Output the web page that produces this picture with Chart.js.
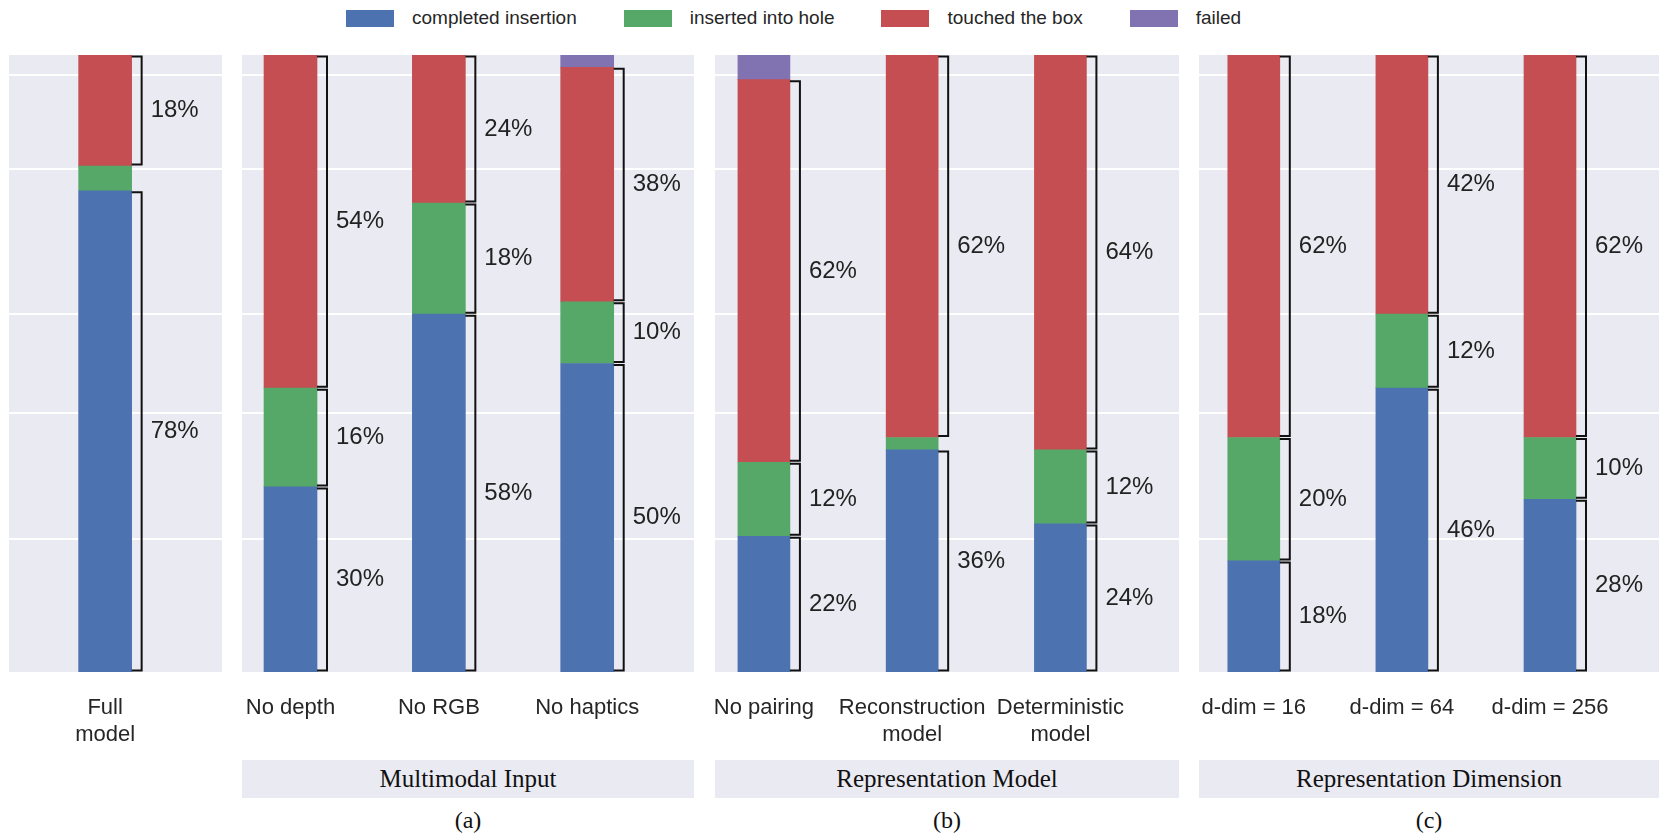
<!DOCTYPE html>
<html>
<head>
<meta charset="utf-8">
<script src="https://cdn.jsdelivr.net/npm/chart.js@4.4.1/dist/chart.umd.min.js"></script>
<style>
  html, body { margin: 0; padding: 0; background: #fff; }
  body { width: 1670px; height: 833px; position: relative; overflow: hidden;
         font-family: "Liberation Sans", Arial, sans-serif; }
  canvas.panel { position: absolute; }
  #legend { position: absolute; left: 346px; top: 9px; height: 18px; display: flex; align-items: center;
            font-size: 19px; color: #262626; white-space: nowrap; }
  #legend .item { display: flex; align-items: center; margin-right: 47px; }
  #legend .swatch { width: 48px; height: 17px; margin-right: 18px; }
  .group { position: absolute; top: 760px; height: 38px; background: #EAEAF2;
           font-family: "Liberation Serif", "Times New Roman", serif; font-size: 25px; color: #111;
           display: flex; align-items: center; justify-content: center; }
  .sub { position: absolute; top: 806px; height: 28px; line-height: 28px; text-align: center;
         font-family: "Liberation Serif", "Times New Roman", serif; font-size: 24px; color: #111; }
</style>
</head>
<body>
<div id="legend"></div>
<script>
// ---- data ----
const seriesNames  = ['completed insertion', 'inserted into hole', 'touched the box', 'failed'];
const seriesColors = ['#4C72B0', '#55A868', '#C44E52', '#8172B2'];

const panelCategories = [
  [['Full', 'model']],
  ['No depth', 'No RGB', 'No haptics'],
  ['No pairing', ['Reconstruction', 'model'], ['Deterministic', 'model']],
  ['d-dim = 16', 'd-dim = 64', 'd-dim = 256']
];

// percentages per panel, one entry per bar
const completed = [[78], [30, 58, 50], [22, 36, 24], [18, 46, 28]];
const inserted  = [[4],  [16, 18, 10], [12, 2, 12],  [20, 12, 10]];
const touched   = [[18], [54, 24, 38], [62, 62, 64], [62, 42, 62]];
const failed    = [[0],  [0, 0, 2],    [4, 0, 0],    [0, 0, 0]];

const gridValues  = [21.5, 42, 58, 81.6, 96.8];
const groupTitles = ['Multimodal Input', 'Representation Model', 'Representation Dimension'];
const subLabels   = ['(a)', '(b)', '(c)'];

// ---- layout ----
const seriesValues = [completed, inserted, touched, failed];
const panels = [
  { left: 9,    width: 213, xMin: -0.65, xMax: 0.79,  bar: 53 },
  { left: 242,  width: 452, xMin: -0.327, xMax: 2.72, bar: 53 },
  { left: 715,  width: 464, xMin: -0.33, xMax: 2.80,  bar: 52 },
  { left: 1199, width: 460, xMin: -0.37, xMax: 2.736, bar: 52 }
];
const PLOT_TOP = 55, PLOT_H = 617, PAD_X = 40, PAD_TOP = 10, AXIS_H = 80;
const labelMin = 10;            // segments smaller than this get no bracket
const sansFamily = '"Liberation Sans", Arial, sans-serif';

// legend
const legendEl = document.getElementById('legend');
seriesNames.forEach((name, k) => {
  const item = document.createElement('div');
  item.className = 'item';
  const sw = document.createElement('div');
  sw.className = 'swatch';
  sw.style.background = seriesColors[k];
  const tx = document.createElement('span');
  tx.textContent = name;
  item.appendChild(sw); item.appendChild(tx);
  legendEl.appendChild(item);
});

// grey plot background
const panelBg = {
  id: 'panelBg',
  beforeDraw(chart) {
    const { ctx, chartArea: a } = chart;
    ctx.save();
    ctx.fillStyle = '#EAEAF2';
    ctx.fillRect(a.left, a.top, a.width, a.height);
    ctx.restore();
  }
};

// brackets with percentage labels to the right of each stacked segment
const brackets = {
  id: 'brackets',
  afterDatasetsDraw(chart) {
    const { ctx } = chart;
    const yScale = chart.scales.y;
    const nBars = chart.data.datasets[0].data.length;
    ctx.save();
    ctx.strokeStyle = '#111';
    ctx.lineWidth = 2;
    ctx.fillStyle = '#222';
    ctx.font = '24px ' + sansFamily;
    ctx.textAlign = 'left';
    ctx.textBaseline = 'middle';
    for (let i = 0; i < nBars; i++) {
      let base = 0;
      chart.data.datasets.forEach((ds, k) => {
        const v = ds.data[i].y;
        const el = chart.getDatasetMeta(k).data[i];
        const right = el.x + el.width / 2;
        if (v >= labelMin) {
          const yTop = yScale.getPixelForValue(base + v) + 1.5;
          const yBot = yScale.getPixelForValue(base) - 1.5;
          const xv = right + 10;
          ctx.beginPath();
          ctx.moveTo(right, yTop);
          ctx.lineTo(xv, yTop);
          ctx.lineTo(xv, yBot);
          ctx.lineTo(right, yBot);
          ctx.stroke();
          ctx.fillText(v + '%', right + 19, (yTop + yBot) / 2);
        }
        base += v;
      });
    }
    ctx.restore();
  }
};

panels.forEach((p, pi) => {
  const cats = panelCategories[pi];
  const canvas = document.createElement('canvas');
  canvas.className = 'panel';
  const w = p.width + 2 * PAD_X, h = PAD_TOP + PLOT_H + AXIS_H;
  canvas.width = w; canvas.height = h;
  canvas.style.width = w + 'px'; canvas.style.height = h + 'px';
  canvas.style.left = (p.left - PAD_X) + 'px';
  canvas.style.top = (PLOT_TOP - PAD_TOP) + 'px';
  document.body.appendChild(canvas);

  new Chart(canvas, {
    type: 'bar',
    data: {
      datasets: seriesNames.map((name, k) => ({
        label: name,
        data: seriesValues[k][pi].map((v, i) => ({ x: i, y: v })),
        backgroundColor: seriesColors[k],
        borderWidth: 0,
        barThickness: p.bar
      }))
    },
    options: {
      responsive: false,
      animation: false,
      devicePixelRatio: 1,
      layout: { padding: { left: PAD_X, right: PAD_X, top: PAD_TOP, bottom: 0 } },
      plugins: { legend: { display: false }, tooltip: { enabled: false } },
      scales: {
        x: {
          type: 'linear', min: p.xMin, max: p.xMax, stacked: true,
          offset: false, bounds: 'data',
          grid: { display: false, offset: false }, border: { display: false },
          afterBuildTicks: s => { s.ticks = cats.map((_, i) => ({ value: i })); },
          afterFit: s => { s.height = AXIS_H; },
          ticks: {
            autoSkip: false, maxRotation: 0, minRotation: 0, padding: 15,
            color: '#262626', font: { size: 22, family: sansFamily },
            callback: v => cats[v]
          }
        },
        y: {
          min: 0, max: 100, stacked: true,
          grid: { color: '#ffffff', lineWidth: 2, drawTicks: false },
          border: { display: false },
          ticks: { display: false },
          afterBuildTicks: s => { s.ticks = gridValues.map(v => ({ value: v })); }
        }
      }
    },
    plugins: [panelBg, brackets]
  });
});

// group captions under panels b-d
groupTitles.forEach((t, gi) => {
  const p = panels[gi + 1];
  const box = document.createElement('div');
  box.className = 'group';
  box.style.left = p.left + 'px';
  box.style.width = p.width + 'px';
  box.textContent = t;
  document.body.appendChild(box);
  const sub = document.createElement('div');
  sub.className = 'sub';
  sub.style.left = p.left + 'px';
  sub.style.width = p.width + 'px';
  sub.textContent = subLabels[gi];
  document.body.appendChild(sub);
});
</script>
</body>
</html>
